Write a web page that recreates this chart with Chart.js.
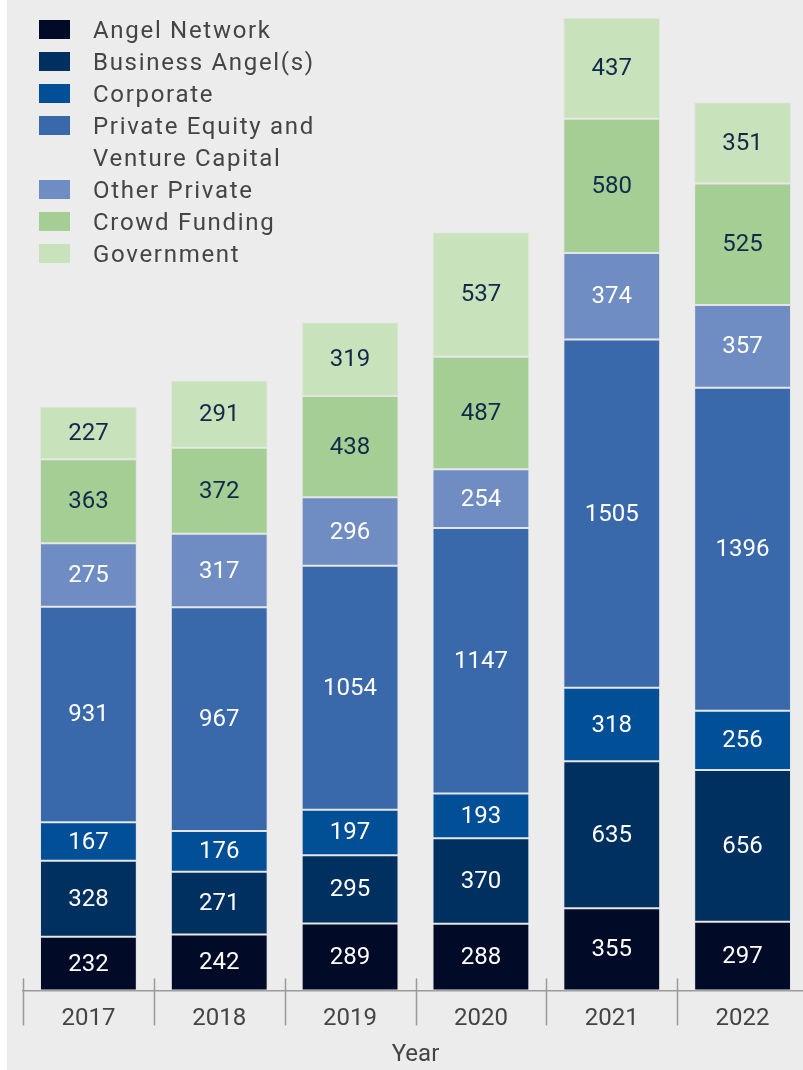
<!DOCTYPE html>
<html>
<head>
<meta charset="utf-8">
<script src="https://cdn.jsdelivr.net/npm/chart.js@4"></script>
<style>
  html, body { margin: 0; padding: 0; background: #ffffff; overflow: hidden; width: 803px; height: 1070px; }
  #bg { position: absolute; left: 7px; top: 0; width: 796px; height: 1070px; background: #ececec; }
  #wrap { position: absolute; left: 0; top: 0; width: 815px; height: 1070px; }
  #legend { position: absolute; left: 39px; top: 14px; font-family: Roboto, sans-serif; font-size: 24px; letter-spacing: 1.7px; color: #444; }
  .row { display: flex; align-items: flex-start; line-height: 32px; }
  .sw { width: 31px; height: 19px; margin-top: 6px; margin-right: 23px; flex: none; }
</style>
</head>
<body>
<div id="bg"></div>
<div id="wrap"><canvas id="c" width="815" height="1070"></canvas></div>
<div id="legend"></div>
<script>
const years = ['2017', '2018', '2019', '2020', '2021', '2022'];
const angelNetwork    = [232, 242, 289, 288, 355, 297];
const businessAngels  = [328, 271, 295, 370, 635, 656];
const corporate       = [167, 176, 197, 193, 318, 256];
const privateEquityVC = [931, 967, 1054, 1147, 1505, 1396];
const otherPrivate    = [275, 317, 296, 254, 374, 357];
const crowdFunding    = [363, 372, 438, 487, 580, 525];
const government      = [227, 291, 319, 537, 437, 351];

const seriesNames = ['Angel Network', 'Business Angel(s)', 'Corporate', ['Private Equity and', 'Venture Capital'], 'Other Private', 'Crowd Funding', 'Government'];
const seriesData = [angelNetwork, businessAngels, corporate, privateEquityVC, otherPrivate, crowdFunding, government];
const seriesColors = ['#010a26', '#00305f', '#004f97', '#3a69ab', '#6f8cc3', '#a4ce94', '#c8e2bc'];
const labelColors = ['#ffffff', '#ffffff', '#ffffff', '#ffffff', '#ffffff', '#13294a', '#13294a'];

// HTML legend
const leg = document.getElementById('legend');
seriesNames.forEach((n, i) => {
  const r = document.createElement('div');
  r.className = 'row';
  const s = document.createElement('span');
  s.className = 'sw';
  s.style.background = seriesColors[i];
  const t = document.createElement('span');
  t.innerHTML = Array.isArray(n) ? n.join('<br>') : n;
  r.appendChild(s); r.appendChild(t);
  leg.appendChild(r);
});

const valueLabels = {
  id: 'valueLabels',
  afterDatasetsDraw(chart) {
    const ctx = chart.ctx;
    ctx.save();
    ctx.font = '24px Roboto, sans-serif';
    ctx.textAlign = 'center';
    ctx.textBaseline = 'middle';
    chart.data.datasets.forEach((ds, di) => {
      const meta = chart.getDatasetMeta(di);
      ctx.fillStyle = labelColors[di];
      meta.data.forEach((el, i) => {
        const y = (el.y + el.base) / 2;
        ctx.fillText(String(ds.data[i]), el.x, y + 1);
      });
    });
    ctx.restore();
  }
};

const catTicks = {
  id: 'catTicks',
  afterDraw(chart) {
    const xs = chart.scales.x;
    const ctx = chart.ctx;
    const n = chart.data.labels.length;
    const step = xs.getPixelForValue(1) - xs.getPixelForValue(0);
    const bottom = chart.chartArea.bottom;
    ctx.save();
    ctx.strokeStyle = '#9a9a9a';
    ctx.lineWidth = 1.5;
    for (let i = 0; i <= n; i++) {
      const x = Math.round(xs.getPixelForValue(i) - step / 2) + 0.5;
      ctx.beginPath();
      ctx.moveTo(x, bottom - 12);
      ctx.lineTo(x, bottom + 35);
      ctx.stroke();
    }
    ctx.restore();
  }
};

new Chart(document.getElementById('c'), {
  type: 'bar',
  data: {
    labels: years,
    datasets: seriesData.map((d, i) => ({
      label: Array.isArray(seriesNames[i]) ? seriesNames[i].join(' ') : seriesNames[i],
      data: d,
      backgroundColor: seriesColors[i],
      borderColor: '#e4e4e4',
      borderWidth: 1,
      borderSkipped: false,
      barPercentage: 0.74,
      categoryPercentage: 1
    }))
  },
  options: {
    responsive: false,
    animation: false,
    layout: { padding: { left: 23, right: 7, top: 7, bottom: 0 } },
    plugins: { legend: { display: false }, tooltip: { enabled: false } },
    scales: {
      x: {
        stacked: true,
        offset: true,
        grid: { display: false, drawTicks: false },
        border: { display: true, color: '#9a9a9a', width: 1.5 },
        ticks: { color: '#444', font: { family: 'Roboto', size: 24 }, padding: 14, maxRotation: 0 },
        title: { display: true, text: 'Year', color: '#444', font: { family: 'Roboto', size: 24 }, padding: { top: -7, bottom: 1 } }
      },
      y: {
        stacked: true,
        display: false,
        min: 0,
        max: 4250
      }
    }
  },
  plugins: [valueLabels, catTicks]
});
</script>
</body>
</html>
